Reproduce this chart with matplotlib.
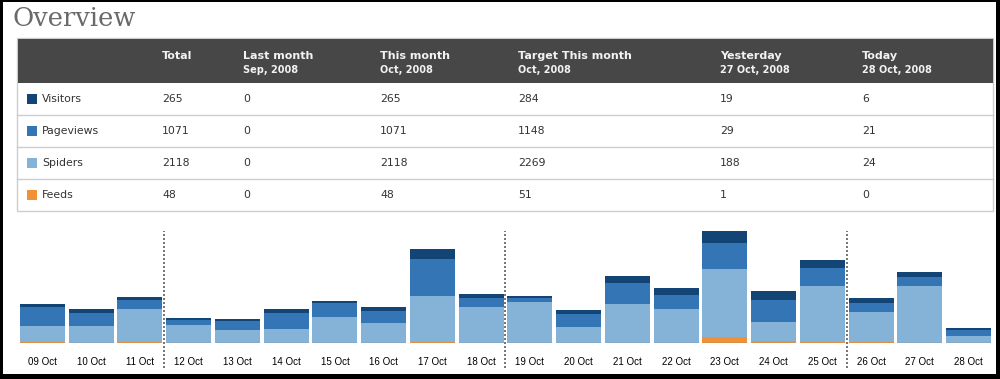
import matplotlib
matplotlib.use("Agg")
import matplotlib.pyplot as plt
from matplotlib.patches import Rectangle
import numpy as np

# ---------------- data ----------------
dates = ['09 Oct', '10 Oct', '11 Oct', '12 Oct', '13 Oct', '14 Oct', '15 Oct',
         '16 Oct', '17 Oct', '18 Oct', '19 Oct', '20 Oct', '21 Oct', '22 Oct',
         '23 Oct', '24 Oct', '25 Oct', '26 Oct', '27 Oct', '28 Oct']
visitors = [10, 13, 10, 7, 7, 13, 7, 13, 33, 13, 7, 13, 23, 23, 40, 30, 26, 17, 19, 6]
pageviews = [63, 43, 30, 16, 30, 53, 46, 40, 122, 30, 13, 43, 69, 46, 86, 73, 59, 30, 29, 21]
spiders = [53, 57, 109, 60, 44, 47, 87, 67, 152, 120, 136, 54, 130, 113, 224, 63, 185, 99, 188, 24]
feeds = [4, 0, 4, 0, 0, 0, 0, 0, 4, 0, 0, 0, 0, 0, 21, 8, 4, 4, 1, 0]
week_breaks = ['12 Oct', '19 Oct', '26 Oct']

row_labels = ['Visitors', 'Pageviews', 'Spiders', 'Feeds']
col_titles = ['Total', 'Last month', 'This month', 'Target This month', 'Yesterday', 'Today']
col_subtitles = ['', 'Sep, 2008', 'Oct, 2008', 'Oct, 2008', '27 Oct, 2008', '28 Oct, 2008']
col_total = [265, 1071, 2118, 48]
col_last_month = [0, 0, 0, 0]
col_this_month = [265, 1071, 2118, 48]
col_target = [284, 1148, 2269, 51]
col_yesterday = [19, 29, 188, 1]
col_today = [6, 21, 24, 0]
table_cols = [col_total, col_last_month, col_this_month, col_target, col_yesterday, col_today]

colors = {'Visitors': '#134476', 'Pageviews': '#3375b5',
          'Spiders': '#85b3d8', 'Feeds': '#f29035'}

# ---------------- figure ----------------
W, H = 1000, 379
fig = plt.figure(figsize=(W / 100, H / 100), dpi=100, facecolor='black')
bg = fig.add_axes([0, 0, 1, 1])
bg.set_xlim(0, W)
bg.set_ylim(H, 0)
bg.axis('off')
bg.add_patch(Rectangle((3, 2), 993, 372, facecolor='white', edgecolor='none', zorder=0))

# title
bg.text(12, 26, 'Overview', family='DejaVu Serif', fontsize=18.5,
        color='#6a6a6a', va='baseline', ha='left')

# table
tx0, tx1 = 17, 993
bg.add_patch(Rectangle((tx0, 38), tx1 - tx0, 173, facecolor='white',
                       edgecolor='#cccccc', lw=1, zorder=1))
bg.add_patch(Rectangle((tx0 + 0.5, 39), tx1 - tx0 - 1, 44, facecolor='#474747',
                       edgecolor='none', zorder=2))
col_x = [162, 243, 380, 518, 720, 862]
for x, t, s in zip(col_x, col_titles, col_subtitles):
    bg.text(x, 56, t, fontsize=8, fontweight='bold', color='#f2f2f2',
            va='center', ha='left', family='DejaVu Sans', zorder=3)
    if s:
        bg.text(x, 70, s, fontsize=7, fontweight='bold', color='#f2f2f2',
                va='center', ha='left', family='DejaVu Sans', zorder=3)

row_h = 32
row_top = 83
for i, lab in enumerate(row_labels):
    cy = row_top + row_h * i + row_h / 2
    if i > 0:
        bg.plot([tx0, tx1], [row_top + row_h * i] * 2, color='#cccccc', lw=1, zorder=2)
    bg.add_patch(Rectangle((27, cy - 5), 10, 10, facecolor=colors[lab],
                           edgecolor='none', zorder=3))
    bg.text(42, cy, lab, fontsize=7.8, color='#333333', va='center', ha='left',
            family='DejaVu Sans', zorder=3)
    for x, col in zip(col_x, table_cols):
        bg.text(x, cy, str(col[i]), fontsize=7.8, color='#333333', va='center',
                ha='left', family='DejaVu Sans', zorder=3)

# ---------------- bar chart ----------------
ymax = 371
px_left, px_right = 20, 991
px_top, px_base = 231, 343.3
ax = fig.add_axes([px_left / W, (H - px_base) / H,
                   (px_right - px_left) / W, (px_base - px_top) / H])
ax.patch.set_visible(False)
n = len(dates)
x = np.arange(n)
w = 0.92
ax.set_xlim(-w / 2, n - 1 + w / 2)
ax.set_ylim(0, ymax)

fe = np.array(feeds)
sp = np.array(spiders)
pv = np.array(pageviews)
vi = np.array(visitors)
ax.bar(x, fe, width=w, color=colors['Feeds'], linewidth=0)
ax.bar(x, sp, width=w, bottom=fe, color=colors['Spiders'], linewidth=0)
ax.bar(x, pv, width=w, bottom=fe + sp, color=colors['Pageviews'], linewidth=0)
ax.bar(x, vi, width=w, bottom=fe + sp + pv, color=colors['Visitors'], linewidth=0)
ax.hlines(np.zeros(n), x - w / 2, x + w / 2, color='#888888', lw=1.0, zorder=5)

for d in week_breaks:
    xb = dates.index(d) - 0.5
    ax.axvline(xb, ymin=-0.22, ymax=1.0, color='#777777', lw=1.44,
               ls=(0, (1, 1)), clip_on=False)

ax.set_xticks(x)
ax.set_xticklabels(dates, fontsize=7, family='Liberation Sans', color='black')
ax.tick_params(axis='x', length=0, pad=10)
ax.set_yticks([])
for s in ax.spines.values():
    s.set_visible(False)

fig.savefig('out.png', dpi=100, facecolor='black')
